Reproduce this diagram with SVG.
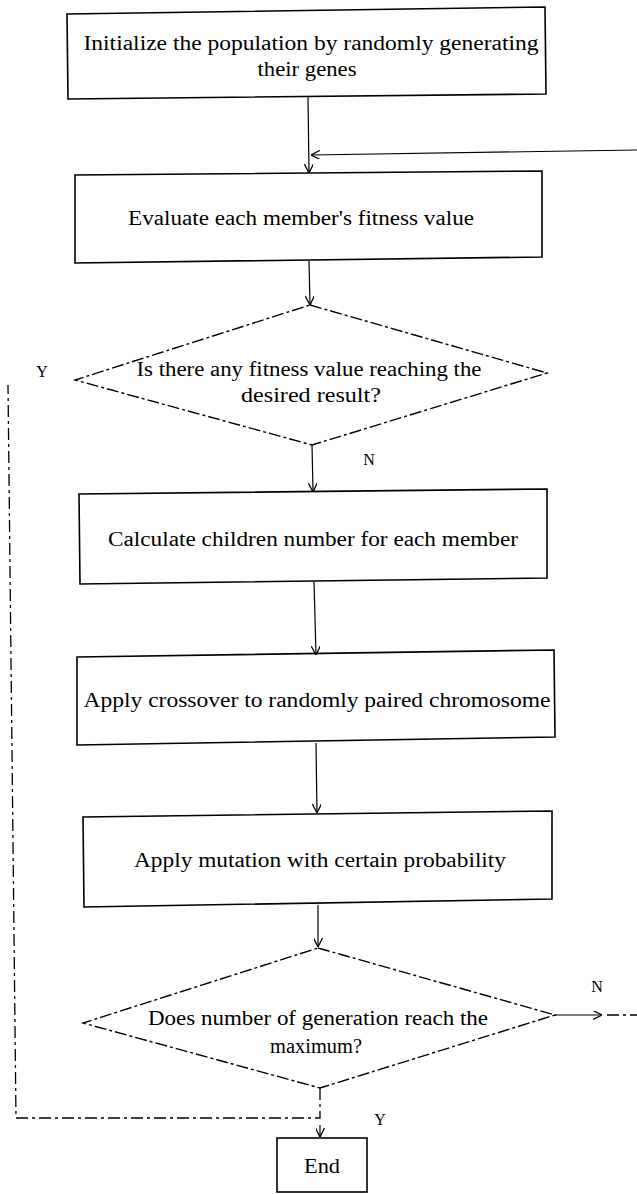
<svg xmlns="http://www.w3.org/2000/svg" width="637" height="1194" viewBox="0 0 637 1194">
<style>
.box{fill:none;stroke:#000;stroke-width:1.6}
.dia{fill:none;stroke:#000;stroke-width:1.4;stroke-dasharray:12 3 3 3}
.conn{fill:none;stroke:#000;stroke-width:1.2}
.dash{fill:none;stroke:#000;stroke-width:1.3;stroke-dasharray:12 4 3 4}
.t{font-family:"Liberation Serif","Times New Roman",serif;font-size:20px;fill:#000;text-anchor:middle}
.lbl{font-family:"Liberation Serif","Times New Roman",serif;font-size:16px;fill:#000;text-anchor:middle}
</style>
<defs>
<marker id="arr" viewBox="0 0 10 10" refX="10" refY="5" markerWidth="9" markerHeight="9" orient="auto" markerUnits="userSpaceOnUse">
<path d="M0,0 L10,5 L0,10" fill="none" stroke="#000" stroke-width="1.4"/>
</marker>
</defs>
<rect width="637" height="1194" fill="#fff"/>

<g id="connectors">
<path class="conn" d="M308,97 L309,173" marker-end="url(#arr)"/>
<path class="conn" d="M637,150 L311,155" marker-end="url(#arr)"/>
<path class="conn" d="M309,261 L310,305" marker-end="url(#arr)"/>
<path class="conn" d="M312,445 L313,492" marker-end="url(#arr)"/>
<path class="conn" d="M314,582 L316,655" marker-end="url(#arr)"/>
<path class="conn" d="M316,743 L317,813" marker-end="url(#arr)"/>
<path class="conn" d="M318,905 L318,947" marker-end="url(#arr)"/>
<path class="conn" d="M555,1015 L602,1015" marker-end="url(#arr)"/>
<path class="dash" d="M607,1015 L637,1015"/>
<path class="dash" d="M320,1088 L320,1118 L16,1118 L8,385"/>
<path class="conn" d="M320,1125 L320,1137" marker-end="url(#arr)"/>
</g>

<g id="n1">
<polygon class="box" points="67,14 545,7 546,94 68,99"/>
<text class="t" x="311" y="50" textLength="455" lengthAdjust="spacingAndGlyphs">Initialize the population by randomly generating</text>
<text class="t" x="307" y="76" textLength="99" lengthAdjust="spacingAndGlyphs">their genes</text>
</g>

<g id="n2">
<polygon class="box" points="75,175 542,171 542,257 75,263"/>
<text class="t" x="301" y="225" textLength="346" lengthAdjust="spacingAndGlyphs">Evaluate each member's fitness value</text>
</g>

<g id="n3">
<polygon class="dia" points="310,305 547,373 312,445 75,380"/>
<text class="t" x="309" y="376" textLength="345" lengthAdjust="spacingAndGlyphs">Is there any fitness value reaching the</text>
<text class="t" x="311" y="402" textLength="140" lengthAdjust="spacingAndGlyphs">desired result?</text>
</g>
<text class="lbl" x="42" y="377">Y</text>
<text class="lbl" x="369" y="465">N</text>

<g id="n4">
<polygon class="box" points="79,494 547,489 547,578 80,584"/>
<text class="t" x="313" y="546" textLength="410" lengthAdjust="spacingAndGlyphs">Calculate children number for each member</text>
</g>

<g id="n5">
<polygon class="box" points="77,657 554,650 555,737 77,745"/>
<text class="t" x="317" y="707" textLength="467" lengthAdjust="spacingAndGlyphs">Apply crossover to randomly paired chromosome</text>
</g>

<g id="n6">
<polygon class="box" points="83,817 552,811 552,899 84,907"/>
<text class="t" x="320" y="867" textLength="372" lengthAdjust="spacingAndGlyphs">Apply mutation with certain probability</text>
</g>

<g id="n7">
<polygon class="dia" points="318,948 555,1015 320,1088 83,1023"/>
<text class="t" x="318" y="1025" textLength="340" lengthAdjust="spacingAndGlyphs">Does number of generation reach the</text>
<text class="t" x="316" y="1053" textLength="92" lengthAdjust="spacingAndGlyphs">maximum?</text>
</g>
<text class="lbl" x="597" y="992">N</text>
<text class="lbl" x="380" y="1125">Y</text>

<g id="n8">
<rect class="box" x="277" y="1138" width="90" height="54"/>
<text class="t" x="322" y="1173" textLength="36" lengthAdjust="spacingAndGlyphs">End</text>
</g>
</svg>
